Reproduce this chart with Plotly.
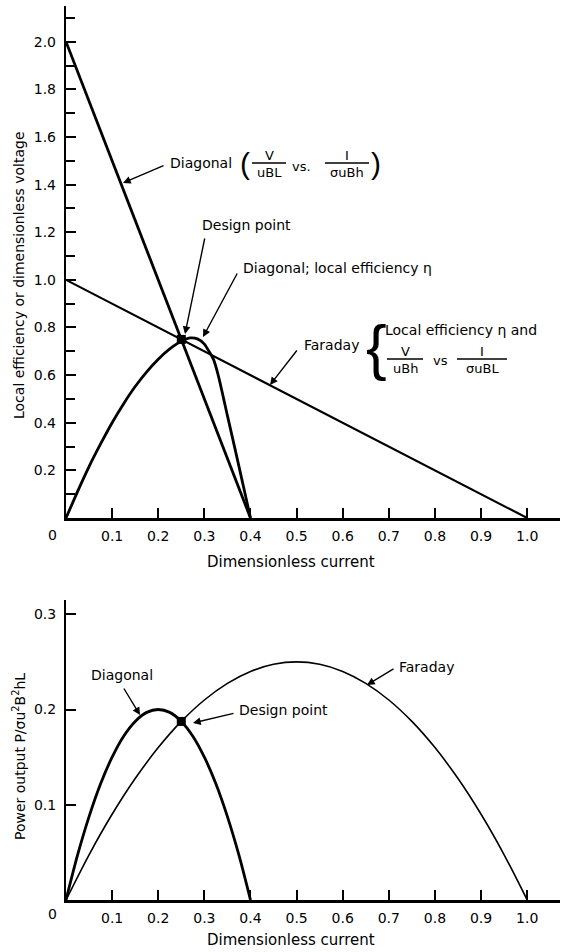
import plotly.graph_objects as go

# ---------------- data ----------------
# top panel
diag_v_x = [0.0, 0.4]
diag_v_y = [2.0, 0.0]
far_x = [0.0, 1.0]
far_y = [1.0, 0.0]
diag_eff_x = [0.0, 0.025, 0.05, 0.075, 0.1, 0.125, 0.15, 0.175, 0.2, 0.225, 0.25,
              0.27, 0.285, 0.30, 0.31, 0.32, 0.33, 0.35, 0.37, 0.385, 0.4]
diag_eff_y = [0.0, 0.111, 0.216, 0.311, 0.40, 0.48, 0.552, 0.614, 0.667, 0.71, 0.742,
              0.756, 0.752, 0.73, 0.70, 0.665, 0.60, 0.43, 0.26, 0.13, 0.0]
design_x = [0.25]
design_top_y = [0.75]

# bottom panel
pow_diag_x = [0.0, 0.025, 0.05, 0.075, 0.1, 0.125, 0.15, 0.175, 0.2, 0.225, 0.25,
              0.275, 0.3, 0.325, 0.35, 0.375, 0.4]
pow_diag_y = [0.0, 0.047, 0.0875, 0.122, 0.15, 0.172, 0.1875, 0.197, 0.2, 0.197, 0.1875,
              0.172, 0.15, 0.122, 0.0875, 0.047, 0.0]
pow_far_x = [0.0, 0.05, 0.1, 0.15, 0.2, 0.25, 0.3, 0.35, 0.4, 0.45, 0.5,
             0.55, 0.6, 0.65, 0.7, 0.75, 0.8, 0.85, 0.9, 0.95, 1.0]
pow_far_y = [0.0, 0.0475, 0.09, 0.1275, 0.16, 0.1875, 0.21, 0.2275, 0.24, 0.2475, 0.25,
             0.2475, 0.24, 0.2275, 0.21, 0.1875, 0.16, 0.1275, 0.09, 0.0475, 0.0]
design_pow_y = [0.1875]

x_ticks = [0.1, 0.2, 0.3, 0.4, 0.5, 0.6, 0.7, 0.8, 0.9, 1.0]
x_tick_labels = ["0.1", "0.2", "0.3", "0.4", "0.5", "0.6", "0.7", "0.8", "0.9", "1.0"]
top_y_ticks = [0.2, 0.4, 0.6, 0.8, 1.0, 1.2, 1.4, 1.6, 1.8, 2.0]
top_y_labels = ["0.2", "0.4", "0.6", "0.8", "1.0", "1.2", "1.4", "1.6", "1.8", "2.0"]
bot_y_ticks = [0.1, 0.2, 0.3]
bot_y_labels = ["0.1", "0.2", "0.3"]

FONT = "DejaVu Sans"
W, H = 564, 952
ML, MR, MT, MB = 66, 4, 6, 52
PW = W - ML - MR
PH = H - MT - MB
XPU = 461.2                     # pixels per unit on x
XR = [0, PW / XPU]
TOP_YR = [0, 2.15]
BOT_YR = [0, 0.315]
TOP_PIX = (6, 518)
BOT_PIX = (600, 900)


def dom(p):
    return [(H - MB - p[1]) / PH, (H - MB - p[0]) / PH]


def conv(panel, px, py):
    x = (px - ML) / XPU
    if panel == "top":
        y0, y1 = TOP_PIX
        yr = TOP_YR
    else:
        y0, y1 = BOT_PIX
        yr = BOT_YR
    y = (y1 - py) / (y1 - y0) * (yr[1] - yr[0])
    return x, y


REF = {"top": ("x", "y"), "bot": ("x2", "y2")}

fig = go.Figure()

# top traces
fig.add_trace(go.Scatter(x=diag_v_x, y=diag_v_y, mode="lines",
                         line=dict(color="black", width=2.8), xaxis="x", yaxis="y"))
fig.add_trace(go.Scatter(x=far_x, y=far_y, mode="lines",
                         line=dict(color="black", width=2.2), xaxis="x", yaxis="y"))
fig.add_trace(go.Scatter(x=diag_eff_x, y=diag_eff_y, mode="lines",
                         line=dict(color="black", width=2.8, shape="spline", smoothing=0.6),
                         xaxis="x", yaxis="y"))
fig.add_trace(go.Scatter(x=design_x, y=design_top_y, mode="markers",
                         marker=dict(color="black", size=9, symbol="square"),
                         xaxis="x", yaxis="y"))
# bottom traces
fig.add_trace(go.Scatter(x=pow_diag_x, y=pow_diag_y, mode="lines",
                         line=dict(color="black", width=2.8, shape="spline", smoothing=0.8),
                         xaxis="x2", yaxis="y2"))
fig.add_trace(go.Scatter(x=pow_far_x, y=pow_far_y, mode="lines",
                         line=dict(color="black", width=1.6, shape="spline", smoothing=0.8),
                         xaxis="x2", yaxis="y2"))
fig.add_trace(go.Scatter(x=design_x, y=design_pow_y, mode="markers",
                         marker=dict(color="black", size=9, symbol="square"),
                         xaxis="x2", yaxis="y2"))

annotations = []
shapes = []


def text(panel, px, py, s, size=14, xanchor="center", family=FONT):
    x, y = conv(panel, px, py)
    xr, yr = REF[panel]
    annotations.append(dict(x=x, y=y, xref=xr, yref=yr, text=s, showarrow=False,
                            xanchor=xanchor, yanchor="middle",
                            font=dict(family=family, size=size, color="black")))


def arrow(panel, tail, head):
    x, y = conv(panel, *head)
    ax, ay = conv(panel, *tail)
    xr, yr = REF[panel]
    annotations.append(dict(x=x, y=y, ax=ax, ay=ay, xref=xr, yref=yr, axref=xr, ayref=yr,
                            text="", showarrow=True, arrowhead=2, arrowsize=1.1,
                            arrowwidth=1.4, arrowcolor="black"))


def frac(panel, cx, pyb, num, den, w, size=13):
    text(panel, cx, pyb - 8, num, size)
    text(panel, cx, pyb + 9, den, size)
    x0, y0 = conv(panel, cx - w / 2, pyb)
    x1, _ = conv(panel, cx + w / 2, pyb)
    xr, yr = REF[panel]
    shapes.append(dict(type="line", xref=xr, yref=yr, x0=x0, x1=x1, y0=y0, y1=y0,
                       line=dict(color="black", width=1.4)))


# --- top panel annotations ---
text("top", 168, 163, "Diagonal", 14, "left")
text("top", 245, 163, "(", 30, family="Liberation Sans")
frac("top", 269, 163, "V", "uBL", 34)
text("top", 301, 166, "vs.", 13)
frac("top", 347, 163, "I", "σuBh", 44)
text("top", 376, 163, ")", 30, family="Liberation Sans")
arrow("top", (165, 165), (123, 183))

text("top", 246, 225, "Design point", 14)
arrow("top", (205, 237), (185, 334))

text("top", 241, 268, "Diagonal; local efficiency η", 14, "left")
arrow("top", (238, 272), (203, 337))

text("top", 302, 345, "Faraday", 14, "left")
arrow("top", (298, 349), (270, 385))
text("top", 376, 346, "{", 62, family="Liberation Sans")
text("top", 383, 330, "Local efficiency η and", 14, "left")
frac("top", 405, 359, "V", "uBh", 36)
text("top", 440, 360, "vs", 13)
frac("top", 482, 359, "I", "σuBL", 50)

# --- bottom panel annotations ---
text("bot", 122, 675, "Diagonal", 14)
arrow("bot", (123, 687), (140, 715))
text("bot", 237, 710, "Design point", 14, "left")
arrow("bot", (235, 713), (193, 723))
text("bot", 397, 667, "Faraday", 14, "left")
arrow("bot", (395, 668), (367, 685))


# axis titles and corner zeros (paper coords)
def paper(px, py):
    return (px - ML) / PW, (H - MB - py) / PH


for (px, py, s, ang, sz) in [
    (19, 275, "Local efficiency or dimensionless voltage", -90, 14),
    (19, 757, "Power output P/σu<sup>2</sup>B<sup>2</sup>hL", -90, 14),
    (291, 562, "Dimensionless current", 0, 15),
    (291, 940, "Dimensionless current", 0, 15),
    (52, 535, "0", 0, 14),
    (52, 914, "0", 0, 14),
]:
    x, y = paper(px, py)
    annotations.append(dict(x=x, y=y, xref="paper", yref="paper", text=s, showarrow=False,
                            textangle=ang, xanchor="center", yanchor="middle",
                            font=dict(family=FONT, size=sz, color="black")))

axis_common = dict(showgrid=False, zeroline=False, showline=True, linecolor="black",
                   ticks="inside", tickcolor="black", tickwidth=1.5, ticklen=10,
                   tickfont=dict(family=FONT, size=14, color="black"))

fig.update_layout(
    width=W, height=H,
    margin=dict(l=ML, r=MR, t=MT, b=MB),
    paper_bgcolor="white", plot_bgcolor="white",
    showlegend=False,
    font=dict(family=FONT, size=14, color="black"),
    xaxis=dict(domain=[0, 1], anchor="y", range=XR, tickvals=x_ticks, ticktext=x_tick_labels,
               linewidth=2.8, ticklabelstandoff=3, **axis_common),
    yaxis=dict(domain=dom(TOP_PIX), anchor="x", range=TOP_YR, tickvals=top_y_ticks,
               ticktext=top_y_labels, linewidth=2.4, ticklabelstandoff=5,
               minor=dict(tick0=0, dtick=0.1, ticks="inside", ticklen=9,
                          tickcolor="black", tickwidth=1.5),
               **axis_common),
    xaxis2=dict(domain=[0, 1], anchor="y2", range=XR, tickvals=x_ticks, ticktext=x_tick_labels,
                linewidth=2.6, ticklabelstandoff=3, **axis_common),
    yaxis2=dict(domain=dom(BOT_PIX), anchor="x2", range=BOT_YR, tickvals=bot_y_ticks,
                ticktext=bot_y_labels, linewidth=2.0, ticklabelstandoff=5, **axis_common),
    annotations=annotations,
    shapes=shapes,
)

fig.write_html("out.html", config={"displayModeBar": False},
               post_script="document.body.style.margin='0';")
